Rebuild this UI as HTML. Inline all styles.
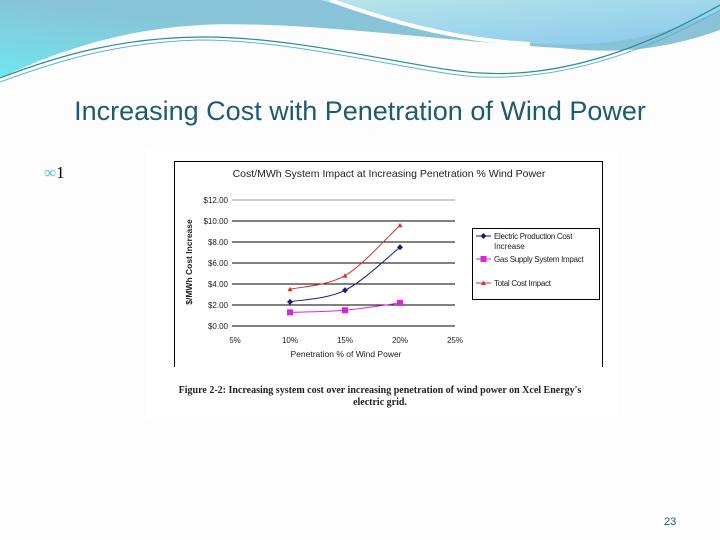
<!DOCTYPE html>
<html><head><meta charset="utf-8"><style>
html,body{margin:0;padding:0;}
body{width:720px;height:540px;background:#fdfdfd;position:relative;overflow:hidden;font-family:"Liberation Sans",sans-serif;}
.abs{position:absolute;}
</style></head><body>
<svg class="abs" style="left:0;top:0" width="720" height="90">
<defs>
<linearGradient id="g1" x1="0" y1="1" x2="1" y2="0"><stop offset="0" stop-color="#6fe6ee"/><stop offset="0.5" stop-color="#88c4d8"/><stop offset="1" stop-color="#8cc0d6"/></linearGradient>
<linearGradient id="g2" x1="0" y1="0" x2="1" y2="1"><stop offset="0" stop-color="#b6e6ea"/><stop offset="1" stop-color="#8ac8ec"/></linearGradient>
</defs>
<path d="M0,0 H720 V30 C650,55 600,52 560,48 C450,42 300,20 200,25 C120,30 60,50 0,78 Z" fill="url(#g1)"/>
<path d="M320,0 H720 V10 C680,30 620,48 540,44 C450,40 380,15 320,0 Z" fill="url(#g2)"/>
<path d="M330,0 C380,18 450,40 530,44" stroke="#fff" stroke-width="4" fill="none"/>
<path d="M0,78 C60,55 120,38 200,37 C300,36 420,70 480,73 C560,78 640,50 720,5" stroke="#2a8aa0" stroke-width="1.2" fill="none"/>
<path d="M0,82 C60,60 120,42 200,40 C300,40 420,74 480,77 C560,80 640,55 720,10" stroke="#5ab8c8" stroke-width="1" fill="none"/>
</svg>
<div class="abs" style="left:0;width:720px;top:96px;text-align:center;font-size:27px;color:#1d5b6e;">Increasing Cost with Penetration of Wind Power</div>
<div class="abs" style="left:44px;top:163px;font-size:17px;font-family:'Liberation Serif',serif;"><span style="color:#4cc4c4">&#x221E;</span>1</div>
<div class="abs" style="left:147px;top:150px;width:470px;height:268px;background:#fff;"></div>
<svg class="abs" id="chart" style="left:0;top:0" width="720" height="540"></svg>
<div class="abs" style="left:150px;width:460px;top:385px;text-align:center;font-family:'Liberation Serif',serif;font-weight:bold;font-size:10px;line-height:12px;color:#222;">Figure 2-2: Increasing system cost over increasing penetration of wind power on Xcel Energy's<br>electric grid.</div>
<script>
const categories=[10,15,20];
const electric=[2.3,3.4,7.5];
const gas=[1.3,1.5,2.2];
const total=[3.5,4.8,9.6];
const yTicks=[0,2,4,6,8,10,12];
const yLabels=["$0.00","$2.00","$4.00","$6.00","$8.00","$10.00","$12.00"];
const xTicks=[5,10,15,20,25];
const xLabels=["5%","10%","15%","20%","25%"];
const svg=document.getElementById('chart');
const NS='http://www.w3.org/2000/svg';
const X=v=>235+(v-5)*11, Y=v=>326-v*10.5;
function mk(t,a){const e=document.createElementNS(NS,t);for(const k in a)e.setAttribute(k,a[k]);svg.appendChild(e);return e;}
let r=mk('path',{d:'M174.5,367 V161.5 H602.5 V367',fill:'#fff',stroke:'#000','stroke-width':1});


let t=mk('text',{x:389,y:177,'text-anchor':'middle','font-size':10.5,fill:'#222'});t.textContent='Cost/MWh System Impact at Increasing Penetration % Wind Power';


yTicks.forEach((v,i)=>{
 let l=mk('line',{x1:232,x2:455,y1:Y(v),y2:Y(v),stroke:i==yTicks.length-1?'#999':'#000','stroke-width':1});
 
 
 let tx=mk('text',{x:228,y:Y(v)+3,'text-anchor':'end','font-size':8,fill:'#222'});tx.textContent=yLabels[i];
 
 
});
xTicks.forEach((v,i)=>{
 let tx=mk('text',{x:X(v),y:343,'text-anchor':'middle','font-size':8,fill:'#222'});tx.textContent=xLabels[i];
 
 
});
let xt=mk('text',{x:346,y:357,'text-anchor':'middle','font-size':8.5,fill:'#222'});xt.textContent='Penetration % of Wind Power';


let yt=mk('text',{x:0,y:0,'text-anchor':'middle','font-size':8.5,'font-weight':'bold',fill:'#222',transform:'translate(192,262) rotate(-90)'});yt.textContent='$/MWh Cost Increase';


function path(vals){const p=categories.map((c,i)=>[X(c),Y(vals[i])]);
 let d='M'+p[0][0]+','+p[0][1];
 for(let i=0;i<p.length-1;i++){const p0=p[Math.max(i-1,0)],p1=p[i],p2=p[i+1],p3=p[Math.min(i+2,p.length-1)];
  d+=` C${p1[0]+(p2[0]-p0[0])/6},${p1[1]+(p2[1]-p0[1])/6} ${p2[0]-(p3[0]-p1[0])/6},${p2[1]-(p3[1]-p1[1])/6} ${p2[0]},${p2[1]}`;}
 return d;}
const series=[[total,'#d03030','tri','total-cost-line'],[electric,'#1a1a7a','dia','electric-cost-line'],[gas,'#e020e0','sq','gas-supply-line']];
series.forEach(s=>{
 let p=mk('path',{d:path(s[0]),fill:'none',stroke:s[1],'stroke-width':1});
 
 
 categories.forEach((c,i)=>{const x=X(c),y=Y(s[0][i]);let m;
  if(s[2]=='tri')m=mk('polygon',{points:`${x},${y-2.5} ${x-2.5},${y+2} ${x+2.5},${y+2}`,fill:s[1]});
  else if(s[2]=='dia')m=mk('polygon',{points:`${x},${y-3} ${x+3},${y} ${x},${y+3} ${x-3},${y}`,fill:s[1]});
  else m=mk('rect',{x:x-3,y:y-3,width:6,height:6,fill:s[1]});
  
  
 });
});
let lg=mk('rect',{x:472.5,y:228.5,width:127,height:71,fill:'#fff',stroke:'#000'});


const legItems=[['Electric Production Cost','#1a1a7a','dia',236],['Gas Supply System Impact','#e020e0','sq',259],['Total Cost Impact','#d03030','tri',283]];
legItems.forEach(it=>{const y=it[3];
 let l=mk('line',{x1:476,x2:491,y1:y,y2:y,stroke:it[1]});
 
 
 if(it[2]=='dia')mk('polygon',{points:`483.5,${y-3} 486.5,${y} 483.5,${y+3} 480.5,${y}`,fill:it[1]});
 else if(it[2]=='sq')mk('rect',{x:480.5,y:y-3,width:6,height:6,fill:it[1]});
 else mk('polygon',{points:`483.5,${y-2.5} 481,${y+2} 486,${y+2}`,fill:it[1]});
 let tx=mk('text',{x:494,y:y+3,'font-size':8,fill:'#222','letter-spacing':-0.3});tx.textContent=it[0];
 
 
});
let t2=mk('text',{x:494,y:249,'font-size':8,fill:'#222'});t2.textContent='Increase';


</script>
<div class="abs" style="left:664px;top:516px;font-size:11px;color:#1d5b6e;">23</div>
</body></html>
